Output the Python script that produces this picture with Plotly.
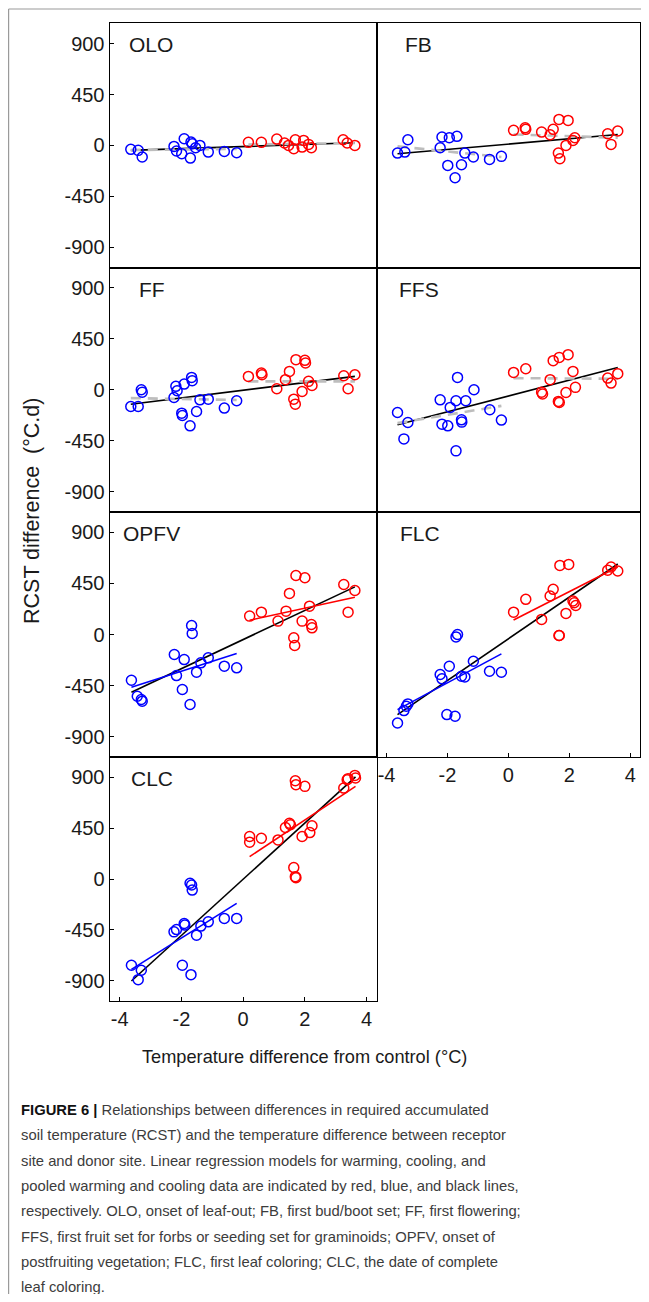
import plotly.graph_objects as go

# ---------------- data ----------------
panels = ["OLO", "FB", "FF", "FFS", "OPFV", "FLC", "CLC"]

olo_blue_x = [-3.64, -3.40, -3.27, -2.24, -2.16, -1.99, -1.91, -1.71, -1.69, -1.65, -1.54, -1.40, -1.13, -0.61, -0.21]
olo_blue_y = [-35, -44, -103, -9, -50, -74, 59, -112, 30, 15, -21, 0, -59, -53, -65]
olo_red_x = [0.17, 0.59, 1.09, 1.34, 1.47, 1.64, 1.69, 1.91, 1.96, 2.12, 2.21, 3.24, 3.37, 3.62]
olo_red_y = [27, 27, 56, 21, 0, -30, 50, -15, 44, 9, -21, 50, 21, 0]

fb_blue_x = [-3.64, -3.40, -3.30, -2.24, -2.18, -1.94, -1.69, -1.99, -1.54, -1.75, -1.43, -1.15, -0.62, -0.23]
fb_blue_y = [-68, -59, 50, -21, 74, 68, 80, -177, -171, -286, -68, -103, -124, -97]
fb_red_x = [0.17, 0.55, 0.57, 1.09, 1.37, 1.47, 1.66, 1.96, 1.64, 1.69, 1.89, 2.12, 2.18, 3.26, 3.37, 3.59]
fb_red_y = [133, 156, 142, 118, 94, 142, 230, 221, -68, -118, 0, 44, 68, 103, 9, 127]

ff_blue_x = [-3.64, -3.40, -3.30, -3.27, -2.24, -2.18, -2.14, -1.99, -1.97, -1.91, -1.72, -1.67, -1.65, -1.51, -1.40, -1.13, -0.61, -0.21]
ff_blue_y = [-148, -148, 0, -21, -68, 30, -9, -207, -227, 50, -319, 109, 80, -192, -89, -83, -162, -97]
ff_red_x = [0.17, 0.59, 0.61, 1.09, 1.37, 1.50, 1.64, 1.69, 1.71, 1.91, 2.00, 2.02, 2.12, 2.23, 3.26, 3.40, 3.62]
ff_red_y = [118, 148, 133, 9, 89, 162, -83, -127, 266, -15, 260, 236, 74, 38, 124, 9, 133]

ffs_blue_x = [-3.64, -3.30, -3.43, -2.24, -2.18, -1.99, -1.91, -1.72, -1.67, -1.54, -1.53, -1.40, -1.13, -1.72, -0.61, -0.23]
ffs_blue_y = [-201, -289, -434, -89, -304, -319, -156, -97, 109, -266, -286, -97, 0, -540, -177, -268]
ffs_red_x = [0.17, 0.57, 1.09, 1.12, 1.37, 1.47, 1.67, 1.96, 1.64, 1.67, 1.89, 2.12, 2.20, 3.26, 3.37, 3.59]
ffs_red_y = [153, 186, -21, -38, 89, 257, 286, 310, -103, -112, -24, 162, 21, 103, 59, 142]

opfv_blue_x = [-3.62, -3.43, -3.30, -3.27, -2.23, -2.16, -1.97, -1.91, -1.72, -1.67, -1.65, -1.51, -1.37, -1.13, -0.61, -0.21]
opfv_blue_y = [-403, -544, -573, -588, -176, -362, -485, -221, -617, 79, 9, -332, -250, -206, -279, -294]
opfv_red_x = [0.21, 0.59, 1.13, 1.39, 1.50, 1.64, 1.67, 1.71, 1.91, 2.00, 2.15, 2.21, 2.23, 3.26, 3.40, 3.62]
opfv_red_y = [162, 197, 118, 206, 362, -29, -97, 520, 118, 500, 250, 88, 59, 441, 197, 388]

flc_blue_x = [-3.64, -3.43, -3.35, -3.30, -2.24, -2.18, -1.94, -1.72, -1.67, -1.54, -1.43, -1.15, -2.02, -1.75, -0.62, -0.23]
flc_blue_y = [-780, -671, -633, -612, -353, -391, -280, -21, 0, -368, -374, -236, -706, -721, -324, -333]
flc_red_x = [0.17, 0.57, 1.09, 1.37, 1.47, 1.66, 1.67, 1.69, 1.98, 1.89, 2.12, 2.16, 2.21, 3.26, 3.37, 3.59]
flc_red_y = [197, 310, 133, 339, 398, -9, -9, 609, 618, 186, 295, 280, 256, 566, 595, 560]

clc_blue_x = [-3.62, -3.40, -3.30, -2.24, -2.16, -1.97, -1.91, -1.89, -1.72, -1.67, -1.65, -1.69, -1.51, -1.37, -1.13, -0.61, -0.21]
clc_blue_y = [-764, -891, -808, -468, -448, -764, -394, -408, -38, -53, -98, -847, -497, -417, -379, -349, -349]
clc_red_x = [0.21, 0.21, 0.59, 1.13, 1.37, 1.50, 1.53, 1.64, 1.69, 1.71, 1.69, 1.71, 2.00, 1.91, 2.16, 2.23, 3.26, 3.37, 3.40, 3.62, 3.64]
clc_red_y = [376, 326, 361, 346, 456, 494, 480, 101, 21, 12, 870, 835, 820, 376, 411, 471, 805, 879, 888, 917, 894]

# regression coefficients (slope, intercept)
black_slope = [9.4, 23.6, 33.8, 70.0, 128.3, 183.6, 249.0]
black_intercept = [-10, 11.5, -4.5, -55, -44.5, -37.7, -1.6]
blue_slope = [3.0, -27.6, -4.7, 44.7, 87.1, 144.0, 171.4]
blue_intercept = [-30, -109, -91, -132, -150, -138, -180]
red_slope = [3.5, -8.4, 0.0, -1.7, 59.7, 136.8, 181.3]
red_intercept = [8, 98.4, 74, 103, 113, 104, 160]
blue_significant = [False, False, False, False, True, True, True]
red_significant = [False, False, False, False, True, True, True]

y_ticks = [-900, -450, 0, 450, 900]
y_tick_text = ["-900", "-450", "0", "450", "900"]
x_ticks = [-4, -2, 0, 2, 4]
x_tick_text = ["-4", "-2", "0", "2", "4"]

caption_lines = [
    "<b><span style='color:#111'>FIGURE 6 |</span></b> Relationships between differences in required accumulated",
    "soil temperature (RCST) and the temperature difference between receptor",
    "site and donor site. Linear regression models for warming, cooling, and",
    "pooled warming and cooling data are indicated by red, blue, and black lines,",
    "respectively. OLO, onset of leaf-out; FB, first bud/boot set; FF, first flowering;",
    "FFS, first fruit set for forbs or seeding set for graminoids; OPFV, onset of",
    "postfruiting vegetation; FLC, first leaf coloring; CLC, the date of complete",
    "leaf coloring.",
]

blue_xs = [olo_blue_x, fb_blue_x, ff_blue_x, ffs_blue_x, opfv_blue_x, flc_blue_x, clc_blue_x]
blue_ys = [olo_blue_y, fb_blue_y, ff_blue_y, ffs_blue_y, opfv_blue_y, flc_blue_y, clc_blue_y]
red_xs = [olo_red_x, fb_red_x, ff_red_x, ffs_red_x, opfv_red_x, flc_red_x, clc_red_x]
red_ys = [olo_red_y, fb_red_y, ff_red_y, ffs_red_y, opfv_red_y, flc_red_y, clc_red_y]

# ---------------- layout ----------------
# the page body has an 8px margin, so the figure is 16px smaller than the window
OFF = 8
W, H = 649 - 2 * OFF, 1302 - 2 * OFF


def fx(px):
    return (px - OFF) / W


def fy(py):
    return 1 - (py - OFF) / H


col_px = [(109.5, 376.5), (376.5, 640.0)]
row_px = [(23.3, 267.5), (267.5, 512.0), (512.0, 757.0), (757.0, 1001.0)]
grid = [(0, 0), (0, 1), (1, 0), (1, 1), (2, 0), (2, 1), (3, 0)]  # (row, col)
bottom_panels = {"FLC", "CLC"}

FONT = "Liberation Sans, Arial, Helvetica, sans-serif"
TXT = "#1a1a1a"
GRAY = "#bdbdbd"

fig = go.Figure()
layout = dict(
    width=W, height=H, margin=dict(l=0, r=0, t=0, b=0),
    paper_bgcolor="white", plot_bgcolor="white", showlegend=False,
    font=dict(family=FONT, color=TXT),
)
annotations = []
shapes = []

for i, name in enumerate(panels):
    r, c = grid[i]
    xa = "x" if i == 0 else f"x{i+1}"
    ya = "y" if i == 0 else f"y{i+1}"
    xkey = "xaxis" if i == 0 else f"xaxis{i+1}"
    ykey = "yaxis" if i == 0 else f"yaxis{i+1}"
    x0, x1 = col_px[c]
    y0, y1 = row_px[r]
    show_x = name in bottom_panels
    show_y = c == 0
    layout[xkey] = dict(
        domain=[fx(x0), fx(x1)], anchor=ya, range=[-4.33, 4.32],
        showline=True, mirror=True, linecolor="black", linewidth=1,
        showgrid=False, zeroline=False,
        tickvals=x_ticks if show_x else [], ticktext=x_tick_text if show_x else [],
        ticks="inside" if show_x else "",
        ticklen=4, tickcolor="black", showticklabels=show_x,
        tickfont=dict(size=20, family=FONT, color=TXT),
    )
    layout[ykey] = dict(
        domain=[fy(y1), fy(y0)], anchor=xa, range=[-1080, 1080],
        showline=True, mirror=True, linecolor="black", linewidth=1,
        showgrid=False, zeroline=False,
        tickvals=y_ticks if show_y else [], ticktext=y_tick_text if show_y else [],
        ticks="inside" if show_y else "",
        ticklen=4, tickcolor="black", showticklabels=show_y,
        tickfont=dict(size=20, family=FONT, color=TXT),
    )

    bx, by, rx, ry = blue_xs[i], blue_ys[i], red_xs[i], red_ys[i]
    all_x = bx + rx

    # pooled regression (black)
    lx = [min(all_x), max(all_x)]
    fig.add_trace(go.Scatter(
        x=lx, y=[black_slope[i] * v + black_intercept[i] for v in lx],
        mode="lines", line=dict(color="black", width=1.6),
        xaxis=xa, yaxis=ya, hoverinfo="skip"))

    # cooling (blue) and warming (red) regressions; non-significant ones in grey dashes
    for xs, sl, ic, sig, col in [
        (bx, blue_slope[i], blue_intercept[i], blue_significant[i], "#0000ff"),
        (rx, red_slope[i], red_intercept[i], red_significant[i], "#ff0000"),
    ]:
        lx = [min(xs), max(xs)]
        line = dict(color=col, width=1.6) if sig else dict(color=GRAY, width=2.6, dash="10px,7px")
        fig.add_trace(go.Scatter(
            x=lx, y=[sl * v + ic for v in lx], mode="lines", line=line,
            xaxis=xa, yaxis=ya, hoverinfo="skip"))

    # points
    fig.add_trace(go.Scatter(
        x=bx, y=by, mode="markers",
        marker=dict(symbol="circle-open", size=10, color="#0000ff", line=dict(width=1.5)),
        xaxis=xa, yaxis=ya))
    fig.add_trace(go.Scatter(
        x=rx, y=ry, mode="markers",
        marker=dict(symbol="circle-open", size=10, color="#ff0000", line=dict(width=1.5)),
        xaxis=xa, yaxis=ya))

    # panel label
    label_x = {"OLO": 127, "FB": 403, "FF": 137, "FFS": 397, "OPFV": 121, "FLC": 398, "CLC": 129}[name]
    annotations.append(dict(
        text=name, xref="paper", yref="paper", x=fx(label_x), y=fy(y0 + 21.5),
        xanchor="left", yanchor="middle", showarrow=False,
        font=dict(size=21, family=FONT, color=TXT)))

# axis titles
annotations.append(dict(
    text="RCST difference&nbsp;&nbsp;(°C.d)", xref="paper", yref="paper",
    x=fx(32), y=fy(511), textangle=-90, showarrow=False,
    xanchor="center", yanchor="middle", font=dict(size=21.5, family=FONT, color=TXT)))
annotations.append(dict(
    text="Temperature difference from control (°C)", xref="paper", yref="paper",
    x=fx(304), y=fy(1057), showarrow=False,
    xanchor="center", yanchor="middle", font=dict(size=18.2, family=FONT, color=TXT)))

# caption
for k, line in enumerate(caption_lines):
    annotations.append(dict(
        text=line, xref="paper", yref="paper", x=fx(19), y=fy(1110 + 25.3 * k),
        xanchor="left", yanchor="middle", showarrow=False, align="left",
        font=dict(size=14.8, family=FONT, color="#3c3c3c")))

# light grey frame around the figure
shapes.append(dict(type="line", xref="paper", yref="paper", x0=fx(8.6), x1=fx(8.6), y0=0, y1=fy(9),
                   line=dict(color="#9a9a9a", width=1.2)))
shapes.append(dict(type="line", xref="paper", yref="paper", x0=fx(8.6), x1=1, y0=fy(9), y1=fy(9),
                   line=dict(color="#9a9a9a", width=1.2)))

layout["annotations"] = annotations
layout["shapes"] = shapes
fig.update_layout(**layout)
fig.write_html("out.html")
